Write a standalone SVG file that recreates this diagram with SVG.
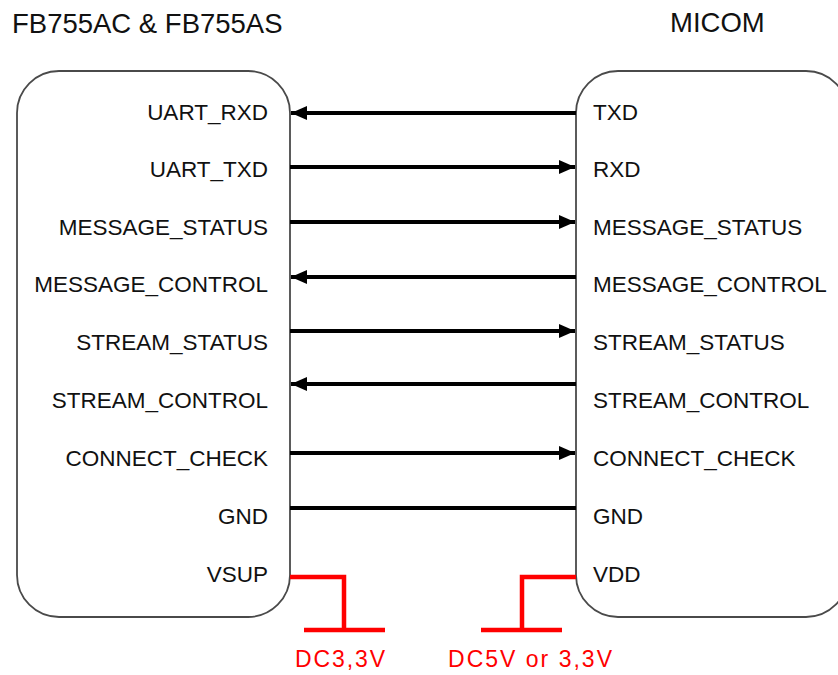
<svg xmlns="http://www.w3.org/2000/svg" width="838" height="675" viewBox="0 0 838 675">
<defs>
<style>
.box{fill:#ffffff;stroke:#4a4a4a;stroke-width:1.8}
.lbl{font-family:"Liberation Sans",Arial,sans-serif;font-size:22.5px;fill:#111111}
.l{text-anchor:end}
.title{font-family:"Liberation Sans",Arial,sans-serif;font-size:27.5px;fill:#111111}
.sig{stroke:#000000;stroke-width:3.8;fill:none}
.pwr{stroke:#ff0000;stroke-width:4.5;fill:none}
.red{font-family:"Liberation Sans",Arial,sans-serif;font-size:23px;fill:#ff0000}
</style>
<marker id="arr" viewBox="0 0 16 14" refX="16" refY="7" markerWidth="16" markerHeight="14" markerUnits="userSpaceOnUse" orient="auto">
<path d="M0,0 L16,7 L0,14 z" fill="#000000"/>
</marker>
</defs>
<rect width="838" height="675" fill="#ffffff"/>
<g id="title-left"><text class="title" x="12" y="33">FB755AC &amp; FB755AS</text></g>
<g id="title-right"><text class="title" x="670" y="32">MICOM</text></g>

<g id="fb755">
<rect class="box" x="17" y="71" width="273" height="546" rx="42" ry="42"/>
<text class="lbl l" x="268" y="120">UART_RXD</text>
<text class="lbl l" x="268" y="177">UART_TXD</text>
<text class="lbl l" x="268" y="235">MESSAGE_STATUS</text>
<text class="lbl l" x="268" y="292">MESSAGE_CONTROL</text>
<text class="lbl l" x="268" y="350">STREAM_STATUS</text>
<text class="lbl l" x="268" y="408">STREAM_CONTROL</text>
<text class="lbl l" x="268" y="466">CONNECT_CHECK</text>
<text class="lbl l" x="268" y="524">GND</text>
<text class="lbl l" x="268" y="582">VSUP</text>
</g>

<g id="micom">
<rect class="box" x="576" y="71" width="272" height="546" rx="42" ry="42"/>
<text class="lbl" x="593" y="120">TXD</text>
<text class="lbl" x="593" y="177">RXD</text>
<text class="lbl" x="593" y="235">MESSAGE_STATUS</text>
<text class="lbl" x="593" y="292">MESSAGE_CONTROL</text>
<text class="lbl" x="593" y="350">STREAM_STATUS</text>
<text class="lbl" x="593" y="408">STREAM_CONTROL</text>
<text class="lbl" x="593" y="466">CONNECT_CHECK</text>
<text class="lbl" x="593" y="524">GND</text>
<text class="lbl" x="593" y="582">VDD</text>
</g>

<g id="connectors">
<line class="sig" x1="576" y1="113" x2="291" y2="113" marker-end="url(#arr)"/>
<line class="sig" x1="290" y1="167" x2="575" y2="167" marker-end="url(#arr)"/>
<line class="sig" x1="290" y1="222" x2="575" y2="222" marker-end="url(#arr)"/>
<line class="sig" x1="576" y1="277" x2="291" y2="277" marker-end="url(#arr)"/>
<line class="sig" x1="290" y1="331" x2="575" y2="331" marker-end="url(#arr)"/>
<line class="sig" x1="576" y1="384" x2="291" y2="384" marker-end="url(#arr)"/>
<line class="sig" x1="290" y1="453" x2="575" y2="453" marker-end="url(#arr)"/>
<line class="sig" x1="290" y1="508" x2="576" y2="508"/>
<path class="pwr" d="M290,577 H344 V630"/>
<path class="pwr" d="M304,630 H385"/>
<path class="pwr" d="M576,577 H522 V630"/>
<path class="pwr" d="M481,630 H562"/>
</g>

<g id="supply-labels">
<text class="red" x="295" y="667" textLength="90" lengthAdjust="spacing">DC3,3V</text>
<text class="red" x="448" y="667" textLength="164" lengthAdjust="spacing">DC5V or 3,3V</text>
</g>
</svg>
